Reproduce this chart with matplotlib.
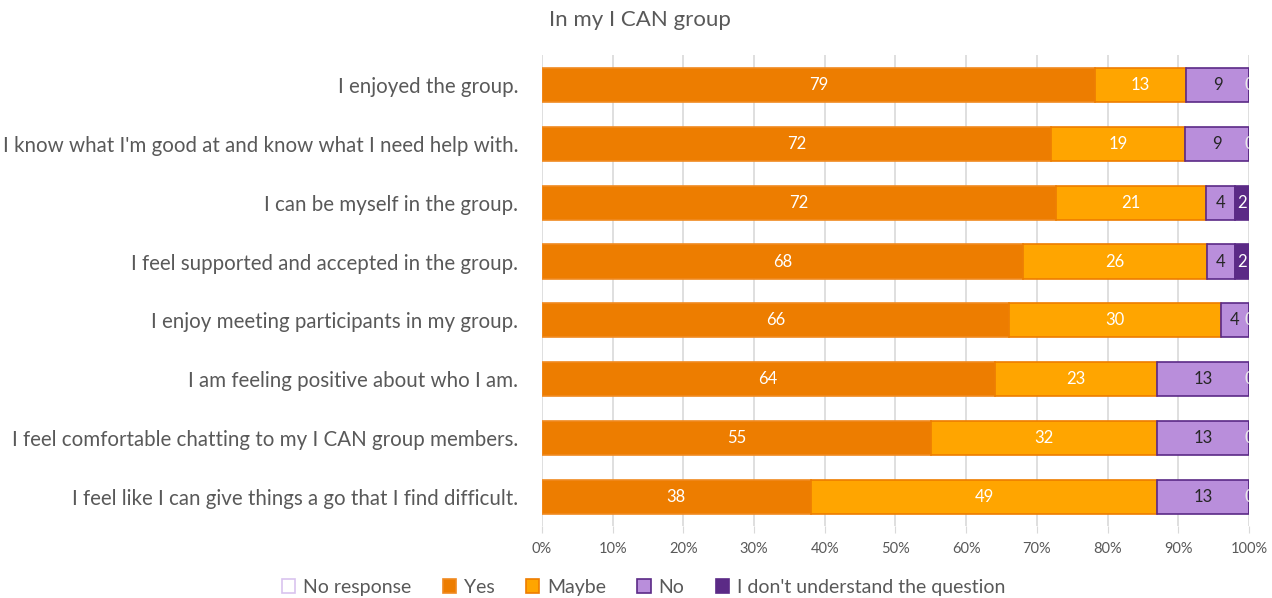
import matplotlib.pyplot as plt
from matplotlib.patches import Patch
import numpy as np

plt.rcParams['font.family'] = ['Lato', 'DejaVu Sans']

questions = [
    "I enjoyed the group.",
    "I know what I'm good at and know what I need help with.",
    "I can be myself in the group.",
    "I feel supported and accepted in the group.",
    "I enjoy meeting participants in my group.",
    "I am feeling positive about who I am.",
    "I feel comfortable chatting to my I CAN group members.",
    "I feel like I can give things a go that I find difficult.",
]
no_response = [0, 0, 0, 0, 0, 0, 0, 0]
yes = [79, 72, 72, 68, 66, 64, 55, 38]
maybe = [13, 19, 21, 26, 30, 23, 32, 49]
no = [9, 9, 4, 4, 4, 13, 13, 13]
dont_understand = [0, 0, 2, 2, 0, 0, 0, 0]

series = [
    ("No response", no_response, "#FFFFFF", "#D9C3EF", "#FFFFFF"),
    ("Yes", yes, "#ED7D00", "#F08A20", "white"),
    ("Maybe", maybe, "#FFA500", "#ED7D00", "white"),
    ("No", no, "#B98EDB", "#5B2A86", "#262626"),
    ("I don't understand the question", dont_understand, "#5B2A86", "#5B2A86", "white"),
]

data = np.array([s[1] for s in series], dtype=float)
totals = data.sum(axis=0)
shares = data / totals * 100

fig = plt.figure(figsize=(12.72, 5.98), dpi=100)
ax = fig.add_axes([0.426, 0.1196, 0.556, 0.7876])

y = np.arange(len(questions))
left = np.zeros(len(questions))
for (name, vals, fc, ec, tc), w in zip(series, shares):
    lw = 0 if name == "No response" else 1.2
    ax.barh(y, w, left=left, height=0.58, color=fc, edgecolor=ec,
            linewidth=lw, zorder=3)
    if name != "No response":
        for yi, (l, wi, v) in enumerate(zip(left, w, vals)):
            ax.text(l + wi / 2, yi, f"{v:g}", ha="center", va="center",
                    fontsize=12, color=tc if v > 0 else "#E8E8E8",
                    zorder=4, clip_on=True)
    left = left + w

ax.set_xlim(0, 100)
ax.set_ylim(len(questions) - 0.5, -0.5)
ax.set_yticks(y)
ax.set_yticklabels(questions, fontsize=14.8, color="#595959")
ax.set_xticks(np.arange(0, 101, 10))
ax.set_xticklabels([f"{t}%" for t in range(0, 101, 10)], fontsize=10.5,
                   color="#595959")
ax.tick_params(axis="y", length=0, pad=17)
ax.tick_params(axis="x", length=5, color="#D9D9D9", pad=6)
ax.grid(axis="x", color="#D9D9D9", linewidth=1.2, zorder=0)
for side in ["top", "right", "left", "bottom"]:
    ax.spines[side].set_visible(False)

fig.text(0.503, 0.967, "In my I CAN group", ha="center", va="center",
         fontsize=16, color="#595959")

handles = [Patch(facecolor=fc, edgecolor=ec, linewidth=1.2, label=name)
           for name, _, fc, ec, _ in series]
fig.legend(handles=handles, loc="center", bbox_to_anchor=(0.506, 0.018),
           ncol=5, frameon=False, fontsize=14, handlelength=0.7,
           handleheight=0.7, handletextpad=0.4, columnspacing=1.6,
           labelcolor="#595959")

fig.savefig("out.png", dpi=100)
